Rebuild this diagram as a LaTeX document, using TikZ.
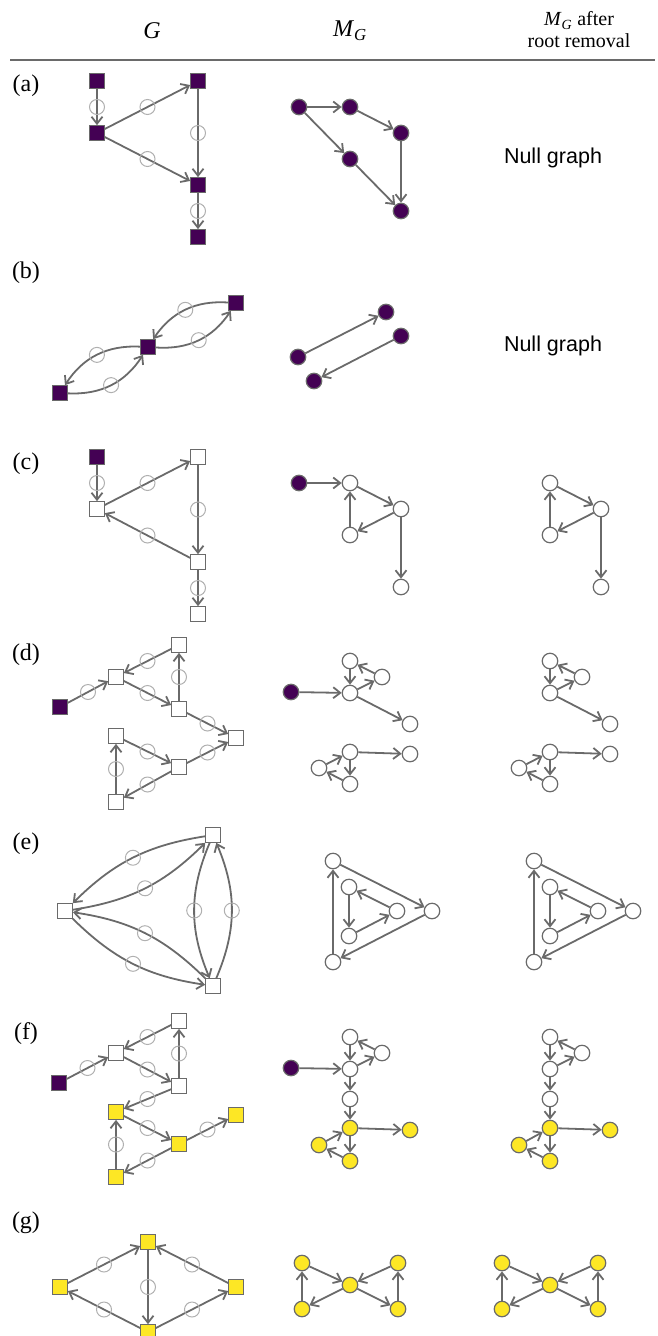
\documentclass[tikz,border=0pt]{standalone}
\usepackage{fontspec}
\setmainfont{Liberation Serif}
\newfontfamily\sansnull{Liberation Sans}
\usepackage{tikz}
\usepackage{xcolor}
\usetikzlibrary{arrows.meta}
\definecolor{vpurple}{HTML}{440154}
\definecolor{vyellow}{HTML}{FDE725}
\definecolor{edgegray}{HTML}{6A6A6A}
\definecolor{ringgray}{HTML}{B0B0B0}

\begin{document}
\begin{tikzpicture}[x=1pt,y=-1pt,
  sq/.style={rectangle,draw=edgegray,line width=1.2pt,fill=white,minimum size=14.5pt,inner sep=0pt},
  sqp/.style={sq,fill=vpurple},
  sqy/.style={sq,fill=vyellow},
  cn/.style={circle,draw=edgegray,line width=1.2pt,fill=white,minimum size=15.5pt,inner sep=0pt},
  cnp/.style={cn,fill=vpurple},
  cny/.style={cn,fill=vyellow},
  arr/.style={draw=edgegray,line width=1.8pt,-{Straight Barb[length=7pt,width=11pt]}},
  ring/.style={circle,draw=ringgray,line width=1pt,minimum size=15pt,inner sep=0pt},
  lbl/.style={font=\fontsize{24}{26}\selectfont},
  nullg/.style={font=\sansnull\fontsize{21.5}{24}\selectfont}]
\useasboundingbox (0,0) rectangle (657,1336);
\node[lbl] (hg) at (152,31) {\textit{G}};
\node[lbl] (hm) at (350,31) {\textit{M}\textsubscript{\textit{G}}};
\node[font=\fontsize{20}{22}\selectfont,align=center] (hr) at (579,30) {\textit{M}\textsubscript{\textit{G}} after\\root removal};
\draw[edgegray,line width=1.5pt] (10,60) -- (655,60);
\node[lbl] (la) at (26,86) {(a)};
\node[lbl] (lb) at (26,273) {(b)};
\node[lbl] (lc) at (26,464) {(c)};
\node[lbl] (ld) at (26,655) {(d)};
\node[lbl] (le) at (26,844) {(e)};
\node[lbl] (lf) at (26,1034) {(f)};
\node[lbl] (lg) at (26,1223) {(g)};

\node[sqp] (a1) at (97,81) {};
\node[sqp] (a2) at (97,133) {};
\node[sqp] (a3) at (198,81) {};
\node[sqp] (a4) at (198,185) {};
\node[sqp] (a5) at (198,237) {};
\draw[arr] (a1) -- node[ring]{} (a2);
\draw[arr] (a2) -- node[ring]{} (a3);
\draw[arr] (a2) -- node[ring]{} (a4);
\draw[arr] (a3) -- node[ring]{} (a4);
\draw[arr] (a4) -- node[ring]{} (a5);
\node[cnp] (ma1) at (299,107) {};
\node[cnp] (ma2) at (350,107) {};
\node[cnp] (ma3) at (350,159) {};
\node[cnp] (ma4) at (401,133) {};
\node[cnp] (ma5) at (401,211) {};
\draw[arr] (ma1) -- (ma2);
\draw[arr] (ma1) -- (ma3);
\draw[arr] (ma2) -- (ma4);
\draw[arr] (ma3) -- (ma5);
\draw[arr] (ma4) -- (ma5);
\node[nullg] (na) at (553,158) {Null graph};

\node[sqp] (b1) at (236,303) {};
\node[sqp] (b2) at (148,347) {};
\node[sqp] (b3) at (60,393) {};
\draw[arr] (b1) to[bend right=30] node[ring]{} (b2);
\draw[arr] (b2) to[bend right=30] node[ring]{} (b1);
\draw[arr] (b2) to[bend right=30] node[ring]{} (b3);
\draw[arr] (b3) to[bend right=30] node[ring]{} (b2);
\node[cnp] (mb1) at (298,357) {};
\node[cnp] (mb2) at (386,312) {};
\node[cnp] (mb3) at (401,336) {};
\node[cnp] (mb4) at (314,381) {};
\draw[arr] (mb1) -- (mb2);
\draw[arr] (mb3) -- (mb4);
\node[nullg] (nb) at (553,346) {Null graph};

\node[sqp] (c1) at (97,457) {};
\node[sq] (c2) at (97,509) {};
\node[sq] (c3) at (198,457) {};
\node[sq] (c4) at (198,562) {};
\node[sq] (c5) at (198,614) {};
\draw[arr] (c1) -- node[ring]{} (c2);
\draw[arr] (c2) -- node[ring]{} (c3);
\draw[arr] (c3) -- node[ring]{} (c4);
\draw[arr] (c4) -- node[ring]{} (c2);
\draw[arr] (c4) -- node[ring]{} (c5);
\node[cnp] (mc1) at (299,483) {};
\node[cn] (mc2) at (350,483) {};
\node[cn] (mc3) at (401,509) {};
\node[cn] (mc4) at (350,535) {};
\node[cn] (mc5) at (401,587) {};
\draw[arr] (mc1) -- (mc2);
\draw[arr] (mc2) -- (mc3);
\draw[arr] (mc3) -- (mc4);
\draw[arr] (mc4) -- (mc2);
\draw[arr] (mc3) -- (mc5);
\node[cn] (rc2) at (550,483) {};
\node[cn] (rc3) at (601,509) {};
\node[cn] (rc4) at (550,535) {};
\node[cn] (rc5) at (601,587) {};
\draw[arr] (rc2) -- (rc3);
\draw[arr] (rc3) -- (rc4);
\draw[arr] (rc4) -- (rc2);
\draw[arr] (rc3) -- (rc5);

\node[sqp] (d1) at (60,707) {};
\node[sq] (d2) at (116,677) {};
\node[sq] (d3) at (179,645) {};
\node[sq] (d4) at (179,709) {};
\node[sq] (d5) at (236,738) {};
\node[sq] (d6) at (116,736) {};
\node[sq] (d7) at (179,767) {};
\node[sq] (d8) at (116,802) {};
\draw[arr] (d1) -- node[ring]{} (d2);
\draw[arr] (d3) -- node[ring]{} (d2);
\draw[arr] (d2) -- node[ring]{} (d4);
\draw[arr] (d4) -- node[ring]{} (d3);
\draw[arr] (d4) -- node[ring]{} (d5);
\draw[arr] (d6) -- node[ring]{} (d7);
\draw[arr] (d7) -- node[ring]{} (d5);
\draw[arr] (d7) -- node[ring]{} (d8);
\draw[arr] (d8) -- node[ring]{} (d6);
\node[cnp] (md1) at (291,692) {};
\node[cn] (md2) at (350,661) {};
\node[cn] (md3) at (350,693) {};
\node[cn] (md4) at (382,677) {};
\node[cn] (md5) at (410,724) {};
\node[cn] (md6) at (350,752) {};
\node[cn] (md7) at (410,754) {};
\node[cn] (md8) at (319,768) {};
\node[cn] (md9) at (350,784) {};
\draw[arr] (md1) -- (md3);
\draw[arr] (md2) -- (md3);
\draw[arr] (md3) -- (md4);
\draw[arr] (md4) -- (md2);
\draw[arr] (md3) -- (md5);
\draw[arr] (md6) -- (md7);
\draw[arr] (md6) -- (md9);
\draw[arr] (md9) -- (md8);
\draw[arr] (md8) -- (md6);
\node[cn] (rd2) at (550,661) {};
\node[cn] (rd3) at (550,693) {};
\node[cn] (rd4) at (582,677) {};
\node[cn] (rd5) at (610,724) {};
\node[cn] (rd6) at (550,752) {};
\node[cn] (rd7) at (610,754) {};
\node[cn] (rd8) at (519,768) {};
\node[cn] (rd9) at (550,784) {};
\draw[arr] (rd2) -- (rd3);
\draw[arr] (rd3) -- (rd4);
\draw[arr] (rd4) -- (rd2);
\draw[arr] (rd3) -- (rd5);
\draw[arr] (rd6) -- (rd7);
\draw[arr] (rd6) -- (rd9);
\draw[arr] (rd9) -- (rd8);
\draw[arr] (rd8) -- (rd6);

\node[sq] (e1) at (213,835) {};
\node[sq] (e2) at (65,911) {};
\node[sq] (e3) at (213,986) {};
\draw[arr] (e1) to[bend right=18] node[ring]{} (e2);
\draw[arr] (e2) to[bend right=18] node[ring]{} (e1);
\draw[arr] (e3) to[bend right=18] node[ring]{} (e2);
\draw[arr] (e2) to[bend right=18] node[ring]{} (e3);
\draw[arr] (e1) to[bend right=23] node[ring]{} (e3);
\draw[arr] (e3) to[bend right=23] node[ring]{} (e1);
\node[cn] (me1) at (333,861) {};
\node[cn] (me2) at (349,887) {};
\node[cn] (me3) at (397,911) {};
\node[cn] (me4) at (432,911) {};
\node[cn] (me5) at (349,936) {};
\node[cn] (me6) at (333,962) {};
\draw[arr] (me1) -- (me4);
\draw[arr] (me4) -- (me6);
\draw[arr] (me6) -- (me1);
\draw[arr] (me2) -- (me5);
\draw[arr] (me5) -- (me3);
\draw[arr] (me3) -- (me2);
\node[cn] (re1) at (534,861) {};
\node[cn] (re2) at (550,887) {};
\node[cn] (re3) at (598,911) {};
\node[cn] (re4) at (633,911) {};
\node[cn] (re5) at (550,936) {};
\node[cn] (re6) at (534,962) {};
\draw[arr] (re1) -- (re4);
\draw[arr] (re4) -- (re6);
\draw[arr] (re6) -- (re1);
\draw[arr] (re2) -- (re5);
\draw[arr] (re5) -- (re3);
\draw[arr] (re3) -- (re2);

\node[sqp] (f1) at (59,1083) {};
\node[sq] (f2) at (116,1053) {};
\node[sq] (f3) at (179,1021) {};
\node[sq] (f4) at (179,1086) {};
\node[sqy] (f5) at (116,1112) {};
\node[sqy] (f6) at (179,1144) {};
\node[sqy] (f7) at (236,1115) {};
\node[sqy] (f8) at (116,1177) {};
\draw[arr] (f1) -- node[ring]{} (f2);
\draw[arr] (f3) -- node[ring]{} (f2);
\draw[arr] (f2) -- node[ring]{} (f4);
\draw[arr] (f4) -- node[ring]{} (f3);
\draw[arr] (f4) -- node[ring]{} (f5);
\draw[arr] (f5) -- node[ring]{} (f6);
\draw[arr] (f6) -- node[ring]{} (f7);
\draw[arr] (f6) -- node[ring]{} (f8);
\draw[arr] (f8) -- node[ring]{} (f5);
\node[cnp] (mf1) at (291,1068) {};
\node[cn] (mf2) at (350,1037) {};
\node[cn] (mf3) at (350,1069) {};
\node[cn] (mf4) at (382,1053) {};
\node[cn] (mf5) at (350,1099) {};
\node[cny] (mf6) at (350,1128) {};
\node[cny] (mf7) at (410,1130) {};
\node[cny] (mf8) at (319,1145) {};
\node[cny] (mf9) at (350,1161) {};
\draw[arr] (mf1) -- (mf3);
\draw[arr] (mf2) -- (mf3);
\draw[arr] (mf3) -- (mf4);
\draw[arr] (mf4) -- (mf2);
\draw[arr] (mf3) -- (mf5);
\draw[arr] (mf5) -- (mf6);
\draw[arr] (mf6) -- (mf7);
\draw[arr] (mf6) -- (mf9);
\draw[arr] (mf9) -- (mf8);
\draw[arr] (mf8) -- (mf6);
\node[cn] (rf2) at (550,1037) {};
\node[cn] (rf3) at (550,1069) {};
\node[cn] (rf4) at (582,1053) {};
\node[cn] (rf5) at (550,1099) {};
\node[cny] (rf6) at (550,1128) {};
\node[cny] (rf7) at (610,1130) {};
\node[cny] (rf8) at (519,1145) {};
\node[cny] (rf9) at (550,1161) {};
\draw[arr] (rf2) -- (rf3);
\draw[arr] (rf3) -- (rf4);
\draw[arr] (rf4) -- (rf2);
\draw[arr] (rf3) -- (rf5);
\draw[arr] (rf5) -- (rf6);
\draw[arr] (rf6) -- (rf7);
\draw[arr] (rf6) -- (rf9);
\draw[arr] (rf9) -- (rf8);
\draw[arr] (rf8) -- (rf6);

\node[sqy] (g1) at (148,1242) {};
\node[sqy] (g2) at (60,1287) {};
\node[sqy] (g3) at (236,1287) {};
\node[sqy] (g4) at (148,1332) {};
\draw[arr] (g2) -- node[ring]{} (g1);
\draw[arr] (g1) -- node[ring]{} (g4);
\draw[arr] (g3) -- node[ring]{} (g1);
\draw[arr] (g4) -- node[ring]{} (g2);
\draw[arr] (g4) -- node[ring]{} (g3);
\node[cny] (mg1) at (302,1263) {};
\node[cny] (mg2) at (350,1285) {};
\node[cny] (mg3) at (398,1263) {};
\node[cny] (mg4) at (302,1309) {};
\node[cny] (mg5) at (398,1309) {};
\draw[arr] (mg1) -- (mg2);
\draw[arr] (mg3) -- (mg2);
\draw[arr] (mg2) -- (mg4);
\draw[arr] (mg2) -- (mg5);
\draw[arr] (mg4) -- (mg1);
\draw[arr] (mg5) -- (mg3);
\node[cny] (rg1) at (502,1263) {};
\node[cny] (rg2) at (550,1285) {};
\node[cny] (rg3) at (598,1263) {};
\node[cny] (rg4) at (502,1309) {};
\node[cny] (rg5) at (598,1309) {};
\draw[arr] (rg1) -- (rg2);
\draw[arr] (rg3) -- (rg2);
\draw[arr] (rg2) -- (rg4);
\draw[arr] (rg2) -- (rg5);
\draw[arr] (rg4) -- (rg1);
\draw[arr] (rg5) -- (rg3);
\end{tikzpicture}
\end{document}
